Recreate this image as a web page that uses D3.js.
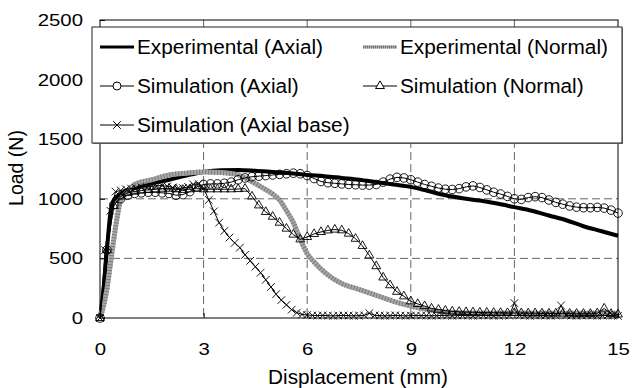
<!DOCTYPE html>
<html><head><meta charset="utf-8">
<script src="https://cdn.jsdelivr.net/npm/d3@7"></script>
<style>
body{margin:0;background:#fff}
svg{display:block}
text{font-family:"Liberation Sans",Arial,sans-serif;fill:#000}
</style></head><body>
<svg id="c" width="632" height="388"></svg>
<script>
const xTicks=[0,3,6,9,12,15];
const yTicks=[0,500,1000,1500,2000,2500];
const gridX=[3,6,9,12];
const gridY=[500,1000,1500,2000];

const expAxialX=[0,0.1,0.2,0.3,0.4,0.6,0.8,1,1.5,2,2.5,3,3.5,4,4.5,5,5.5,6,6.5,7,7.5,8,8.5,9,9.5,10,10.5,11,11.5,12,12.5,13,13.5,14,14.5,15];
const expAxialY=[0,235,570,880,990,1040,1070,1090,1130,1160,1195,1225,1240,1242,1235,1225,1215,1200,1190,1175,1160,1140,1120,1100,1065,1030,1005,985,960,930,900,860,820,770,730,690];

const expNormalX=[0,0.1,0.2,0.3,0.4,0.5,0.6,0.8,1,1.5,2,2.5,3,3.5,4,4.3,4.6,5,5.2,5.4,5.6,5.8,6,6.2,6.4,6.7,7,7.5,8,8.5,9,9.5,10,11,12,13,14,15];
const expNormalY=[0,100,240,450,660,850,990,1060,1120,1160,1200,1215,1225,1220,1200,1160,1110,1040,990,900,800,660,540,470,410,340,290,240,190,140,100,70,50,40,40,40,40,40];

const simStep=0.2;
const simAxialY=[0,570,950,1000,1030,1045,1050,1055,1055,1050,1045,1030,1035,1060,1100,1120,1125,1125,1130,1140,1160,1175,1185,1190,1195,1200,1205,1210,1215,1210,1195,1170,1145,1135,1130,1125,1120,1118,1115,1115,1120,1140,1165,1180,1175,1160,1140,1120,1105,1090,1080,1078,1085,1100,1108,1095,1075,1055,1040,1020,1000,995,1010,1018,1010,990,970,955,940,930,925,925,928,922,905,880];
const simNormalY=[0,570,940,1020,1050,1060,1070,1075,1080,1085,1085,1080,1075,1080,1085,1080,1080,1080,1080,1080,1082,1085,1020,945,890,850,800,750,700,660,680,705,722,735,742,736,708,665,605,525,435,340,275,220,182,140,118,100,80,70,62,55,52,50,48,46,45,44,43,42,42,41,40,40,39,38,38,37,37,36,36,35,40,80,35,30];

const baseStep=0.15;
const simBaseY=[0,570,900,1060,1070,1080,1085,1090,1095,1100,1105,1110,1110,1105,1095,1085,1090,1100,1120,1125,1090,990,895,800,730,675,630,590,530,480,430,380,320,260,200,150,110,70,45,30,25,
22,20,22,20,18,20,22,20,18,20,22,40,22,20,18,20,22,20,18,20,22,20,20,18,20,22,20,18,20,22,20,18,20,22,20,18,20,22,20,125,22,20,18,20,22,20,18,20,105,22,20,18,20,22,20,18,20,22,20,18];

const legendLabels=["Experimental (Axial)","Experimental (Normal)","Simulation (Axial)","Simulation (Normal)","Simulation (Axial base)"];
const xTitle="Displacement (mm)", yTitle="Load (N)";

const svg=d3.select("#c");
const L=100,R=618,T=20,B=318;
const x=d3.scaleLinear().domain([0,15]).range([L,R]);
const y=d3.scaleLinear().domain([0,2500]).range([B,T]);
const TS=1.2; // horizontal stretch of tick labels

// grid
svg.append("g").selectAll("line").data(gridX).join("line")
  .attr("x1",d=>x(d)).attr("x2",d=>x(d)).attr("y1",T).attr("y2",B)
  .attr("stroke","#666").attr("stroke-dasharray","8,4").attr("stroke-width",1);
svg.append("g").selectAll("line").data(gridY).join("line")
  .attr("y1",d=>y(d)).attr("y2",d=>y(d)).attr("x1",L).attr("x2",R)
  .attr("stroke","#666").attr("stroke-dasharray","8,4").attr("stroke-width",1);

// axes
const xa=svg.append("g").attr("transform",`translate(0,${B})`)
  .call(d3.axisBottom(x).tickValues(xTicks).tickFormat(d3.format("d")).tickSizeInner(-5).tickSizeOuter(0).tickPadding(25));
xa.selectAll("text").attr("font-size",17).attr("font-family",null).attr("transform",`scale(${TS},1)`);
xa.select(".domain").remove();
const ya=svg.append("g").attr("transform",`translate(${L},0)`)
  .call(d3.axisLeft(y).tickValues(yTicks).tickFormat(d3.format("d")).tickSizeInner(-5).tickSizeOuter(0).tickPadding(17/TS));
ya.selectAll("text").attr("font-size",17).attr("font-family",null).attr("transform",`scale(${TS},1)`);
ya.select(".domain").remove();

svg.append("rect").attr("x",L).attr("y",T).attr("width",R-L).attr("height",B-T)
  .attr("fill","none").attr("stroke","#000").attr("stroke-width",1);

svg.append("text").attr("transform",`translate(358,384) scale(1.065,1)`).attr("text-anchor","middle").attr("font-size",19.5).text(xTitle);
svg.append("text").attr("transform","translate(23,168) rotate(-90)").attr("text-anchor","middle").attr("font-size",19.5).text(yTitle);

const plot=svg.append("g");
svg.append("clipPath").attr("id","clp").append("rect").attr("x",L-6).attr("y",T).attr("width",R-L+12).attr("height",B-T+6);
plot.attr("clip-path","url(#clp)");

const expA=expAxialX.map((d,i)=>[d,expAxialY[i]]);
const expN=expNormalX.map((d,i)=>[d,expNormalY[i]]);
const simA=simAxialY.map((v,i)=>[i*simStep,v]);
const simN=simNormalY.map((v,i)=>[i*simStep,v]);
const simB=simBaseY.map((v,i)=>[i*baseStep,v]);

const line=d3.line().x(d=>x(d[0])).y(d=>y(d[1]));
const smooth=d3.line().x(d=>x(d[0])).y(d=>y(d[1])).curve(d3.curveMonotoneX);

plot.append("path").attr("d",smooth(expA)).attr("fill","none").attr("stroke","#000").attr("stroke-width",4);
plot.append("path").attr("d",smooth(expN)).attr("fill","none").attr("stroke","#a8a8a8").attr("stroke-width",5);
plot.append("path").attr("d",smooth(expN)).attr("fill","none").attr("stroke","#7a7a7a").attr("stroke-width",5).attr("stroke-dasharray","1,2");

// sim axial circles
plot.append("path").attr("d",line(simA)).attr("fill","none").attr("stroke","#000").attr("stroke-width",1);
plot.append("g").selectAll("circle").data(simA).join("circle")
  .attr("cx",d=>x(d[0])).attr("cy",d=>y(d[1])).attr("r",4.3)
  .attr("fill","none").attr("stroke","#000").attr("stroke-width",0.9);
// sim normal triangles
const tri=d3.symbol().type(d3.symbolTriangle).size(34);
plot.append("path").attr("d",line(simN)).attr("fill","none").attr("stroke","#000").attr("stroke-width",1);
plot.append("g").selectAll("path").data(simN).join("path")
  .attr("transform",d=>`translate(${x(d[0])},${y(d[1])})`).attr("d",tri())
  .attr("fill","none").attr("stroke","#000").attr("stroke-width",0.9);
// sim base X
const cross=d3.symbol().type(d3.symbolX).size(40);
plot.append("path").attr("d",line(simB)).attr("fill","none").attr("stroke","#000").attr("stroke-width",1);
plot.append("g").selectAll("path").data(simB).join("path")
  .attr("transform",d=>`translate(${x(d[0])},${y(d[1])})`).attr("d",cross())
  .attr("fill","none").attr("stroke","#000").attr("stroke-width",0.9);

// legend
const lg=svg.append("g");
lg.append("rect").attr("x",93).attr("y",28).attr("width",530).attr("height",116).attr("fill","#888");
lg.append("rect").attr("x",92).attr("y",27).attr("width",530).attr("height",116).attr("fill","#fff").attr("stroke","#222").attr("stroke-width",1);
const items=[
  {lab:legendLabels[0],lx:100,ty:47,kind:"expA"},
  {lab:legendLabels[1],lx:363,ty:47,kind:"expN"},
  {lab:legendLabels[2],lx:100,ty:86,kind:"simA"},
  {lab:legendLabels[3],lx:363,ty:86,kind:"simN"},
  {lab:legendLabels[4],lx:100,ty:125,kind:"simB"}
];
items.forEach(it=>{
  const g=lg.append("g");
  const x1=it.lx,x2=it.lx+34,xm=(x1+x2)/2;
  if(it.kind==="expA"){g.append("line").attr("x1",x1).attr("x2",x2).attr("y1",it.ty).attr("y2",it.ty).attr("stroke","#000").attr("stroke-width",3);}
  else if(it.kind==="expN"){
    g.append("line").attr("x1",x1).attr("x2",x2).attr("y1",it.ty).attr("y2",it.ty).attr("stroke","#aaa").attr("stroke-width",3);
    g.append("line").attr("x1",x1).attr("x2",x2).attr("y1",it.ty).attr("y2",it.ty).attr("stroke","#777").attr("stroke-width",3).attr("stroke-dasharray","1,1");
  } else {
    g.append("line").attr("x1",x1).attr("x2",x2).attr("y1",it.ty).attr("y2",it.ty).attr("stroke","#000").attr("stroke-width",1);
    if(it.kind==="simA") g.append("circle").attr("cx",xm).attr("cy",it.ty).attr("r",4).attr("fill","#fff").attr("stroke","#000");
    if(it.kind==="simN") g.append("path").attr("transform",`translate(${xm},${it.ty})`).attr("d",tri()).attr("fill","#fff").attr("stroke","#000");
    if(it.kind==="simB") g.append("path").attr("transform",`translate(${xm},${it.ty})`).attr("d",cross()).attr("fill","none").attr("stroke","#000");
  }
  g.append("text").attr("transform",`translate(${x2+3},${it.ty}) scale(1.04,1)`).attr("dy","0.36em").attr("font-size",20).text(it.lab);
});
</script>
</body></html>
